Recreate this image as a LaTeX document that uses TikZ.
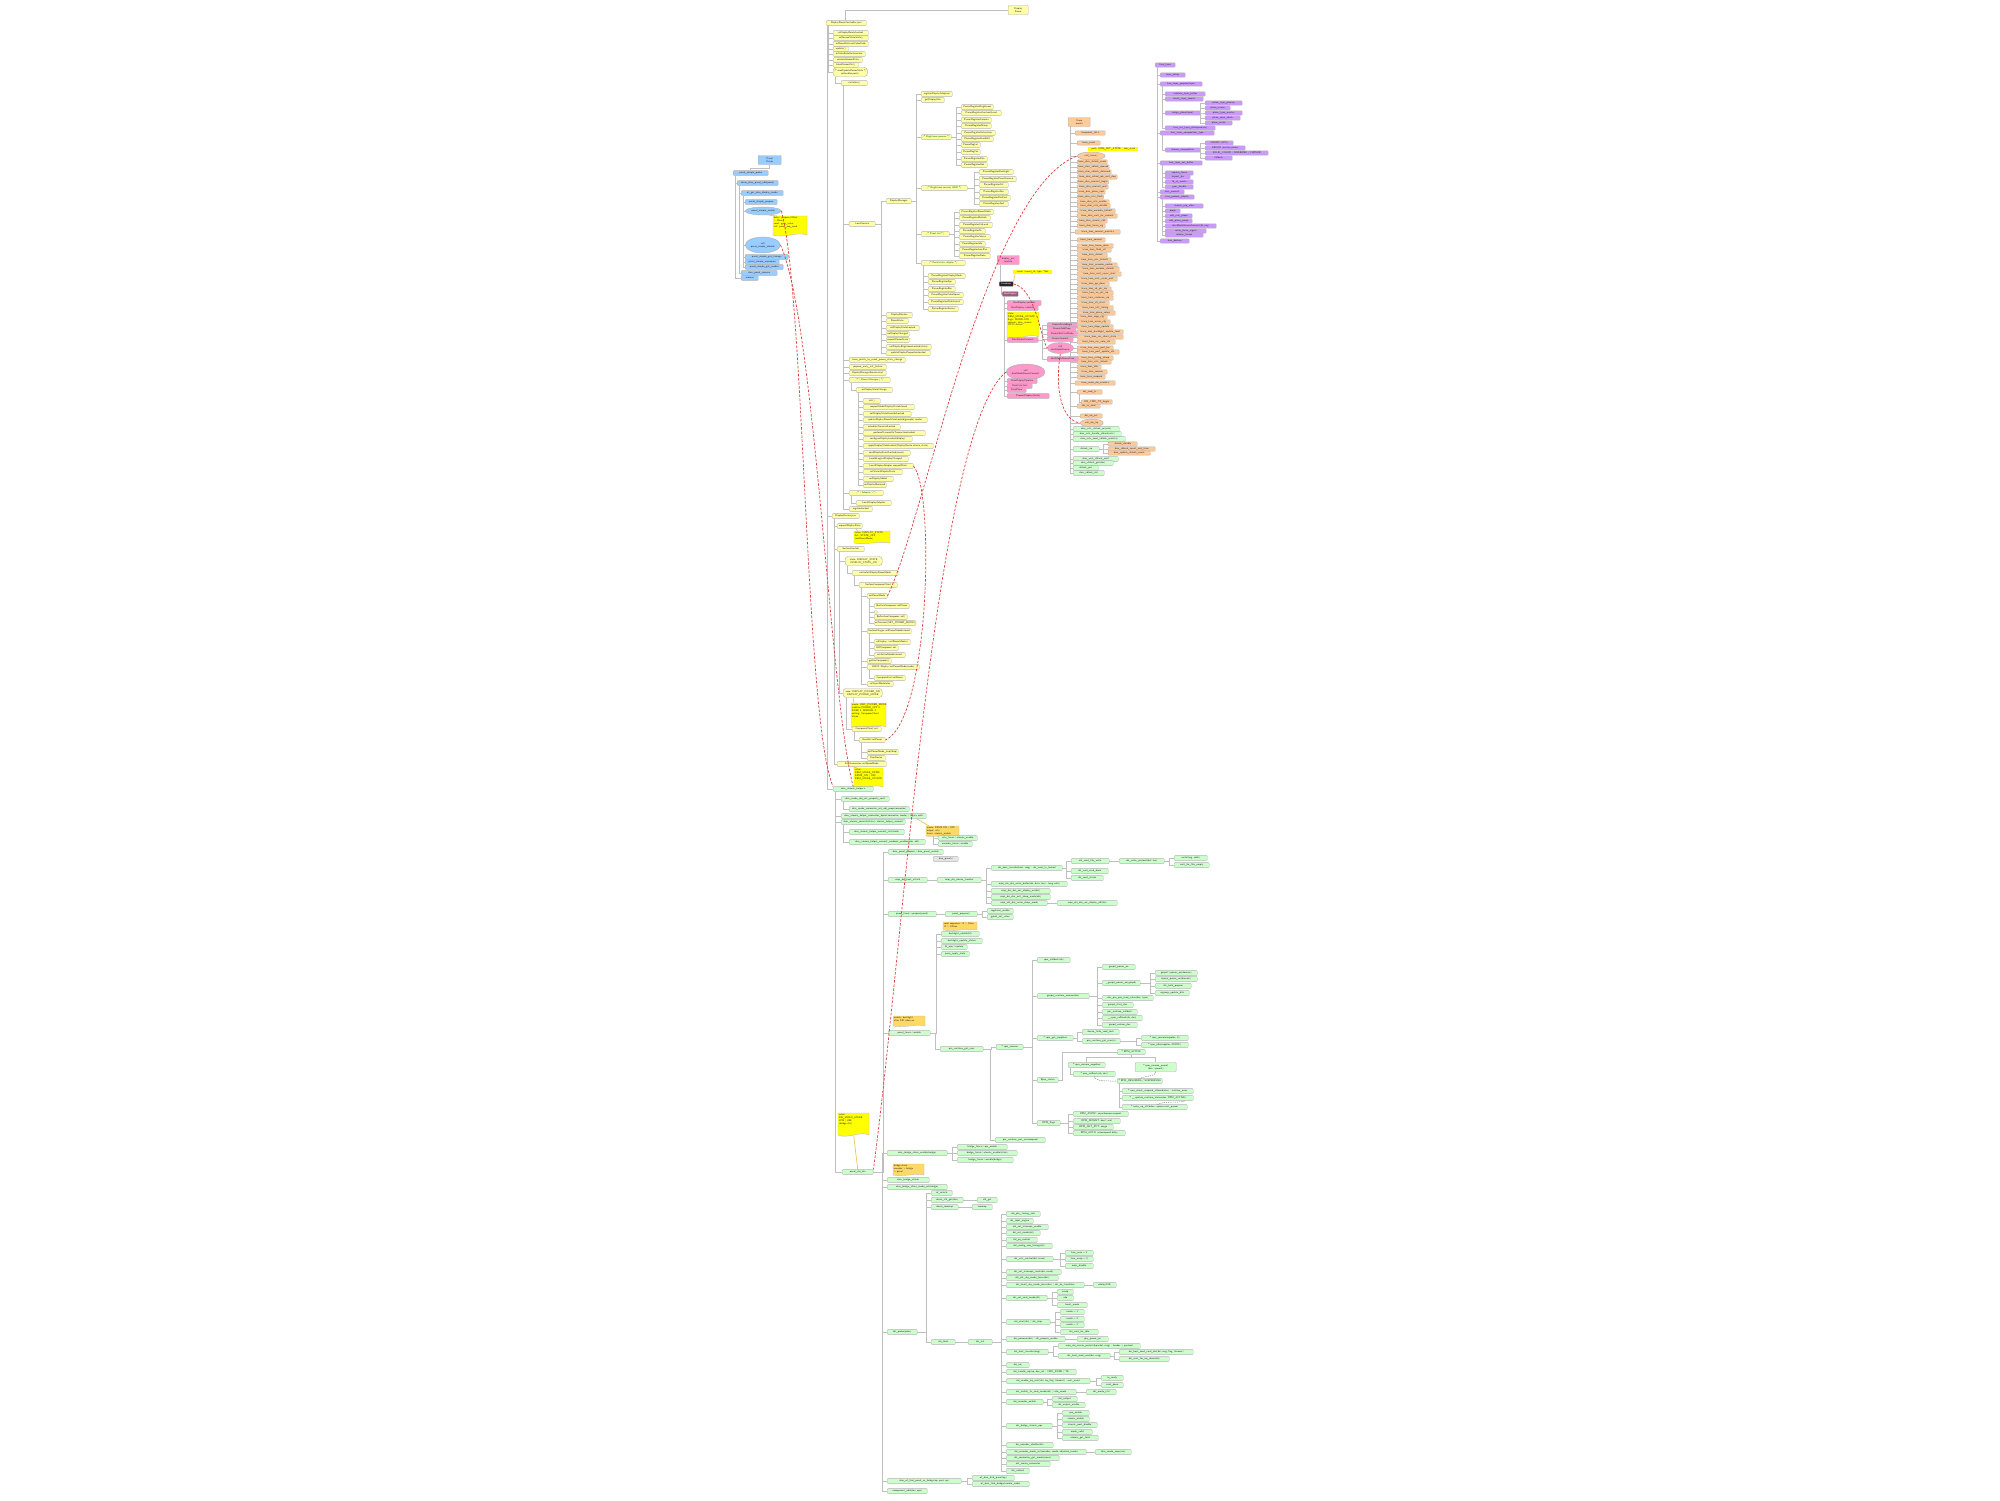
\documentclass[tikz,border=0pt]{standalone}
\usetikzlibrary{shapes.geometric}
\definecolor{cY}{HTML}{FFFFA6}
\definecolor{cYN}{HTML}{FFFF00}
\definecolor{cON}{HTML}{FFD966}
\definecolor{cB}{HTML}{99CCFF}
\definecolor{cO}{HTML}{FFCC99}
\definecolor{cP}{HTML}{FF99CC}
\definecolor{cV}{HTML}{CC99FF}
\definecolor{cG}{HTML}{CCFFCC}
\definecolor{cM}{HTML}{9E5A80}
\definecolor{cR}{HTML}{E03C3C}
\definecolor{cNL}{HTML}{E8C040}
\newcommand\tinyf{\fontsize{2.5}{2.9}\selectfont\sffamily}
\tikzset{
 box/.style={anchor=west, draw=black!30, line width=0.45pt, rounded corners=0.7pt, font=\tinyf, inner xsep=0.8pt, inner ysep=0.2pt, minimum height=4.6pt, align=center, text=black!85},
 Y/.style={box, fill=cY},
 YC/.style={box, fill=cY, text=green!40!black},
 G/.style={box, fill=cG},
 B/.style={box, fill=cB},
 O/.style={box, fill=cO, minimum height=4.2pt},
 P/.style={box, fill=cP},
 V/.style={box, fill=cV, minimum height=4.2pt},
 YL/.style={box, fill=cYN, rounded corners=0pt, draw=none},
 GR/.style={box, fill=black!10},
 two/.style={minimum height=9pt},
 pill/.style={rounded corners=3pt},
 ell/.style={ellipse, anchor=west, draw=black!30, line width=0.45pt, font=\tinyf, inner sep=0pt, align=center, text=black!85},
 conn/.style={draw=black!25, line width=0.8pt},
 rdash/.style={draw=cR, line width=0.7pt, dash pattern=on 2.5pt off 1.6pt},
 gdash/.style={draw=black!50, line width=0.5pt, dash pattern=on 1.2pt off 1pt},
 notel/.style={draw=cNL, line width=0.6pt},
 notetxt/.style={font=\tinyf, align=left, inner sep=0.7pt, text=black!85},
}
\newcommand\Nd[6][Y]{\node[#1,minimum width=#5pt] (#2) at (#3,#4) {#6};}
\newcommand\CL[3][2]{\draw[conn] ([xshift=#1pt]#2.south west) |- (#3.west);}
\newcommand\CR[2]{\draw[conn] (#1.east) -| ([xshift=-5pt]#2.west) -- (#2.west);}
\newcommand\LstL[5]{\foreach \lY/\lW/\lT [count=\lI] in {#5} {\node[#1,minimum width=\lW pt] (#3\lI) at (#4,\lY) {\lT}; \draw[conn] ([xshift=2pt]#2.south west) |- (#3\lI.west);}}
\newcommand\LstR[5]{\foreach \lY/\lW/\lT [count=\lI] in {#5} {\node[#1,minimum width=\lW pt] (#3\lI) at (#4,\lY) {\lT}; \draw[conn] (#2.east) -| ([xshift=-5pt]#3\lI.west) -- (#3\lI.west);}}
\newcommand\Note[7][cYN]{%
 \filldraw[fill=#1, draw=black!25, line width=0.4pt] (#3,#4) -- ++(#5,0) -- ++(0,#6) .. controls +(-0.3*#5,-0.2*#6) and +(0.3*#5,0.2*#6) .. ++(-#5,0) -- cycle;
 \node[inner sep=0pt, minimum width=#5pt, minimum height=#6pt, anchor=north west] (#2) at (#3,#4) {};
 \node[notetxt, anchor=north west] (#2t) at (#3,#4) {#7};}
\begin{document}
\begin{tikzpicture}[x=1pt,y=-1pt]
\useasboundingbox (0,0) rectangle (2000,1500);
\fill[white] (0,0) rectangle (2000,1500);

% ================= BLUE CLUSTER =================
\Nd[B,two]{b156}{758}{160}{23}{Panel\\Driver}
\Nd[B]{b173}{733}{173}{35}{panel\_simple\_probe}
\draw[conn] (b156.south) -- ++(0,3.5) -| (b173.north);
\Nd[B]{b183}{737}{183}{41}{devm\_drm\_panel\_add(panel)}
\Nd[B]{b278}{741}{278}{17}{remove}
\CL{b173}{b183} \CL{b173}{b278}
\Nd[B]{b193}{741}{193}{42}{of\_get\_drm\_display\_mode}
\Nd[B]{b273}{741}{273}{36}{drm\_panel\_remove}
\CL{b183}{b193} \CL{b183}{b273}
\Nd[B]{b202}{745}{202}{32}{panel\_simple\_prepare}
\Nd[ell,fill=cB,minimum height=8pt]{b211}{745}{211}{36}{panel\_simple\_enable}
\Nd[ell,fill=cB,minimum height=16pt]{b244}{745}{245}{35}{call\\panel\_simple\_disable}
\Nd[B]{b257}{745}{257}{43}{panel\_simple\_get\_timings}
\Nd[B]{b262}{745}{262}{34}{panel\_simple\_unprepare}
\Nd[B]{b267}{745}{267}{38}{panel\_simple\_get\_modes}
\foreach \c in {b202,b211,b244,b257,b262,b267}{\CL{b193}{\c}}
\Note{noteB}{773}{216}{34}{19}{delay: prepare 120ms\\+ 20ms\\reset: gpio\_value\\init: panel\_seq\_send}
\draw[notel] ([xshift=6pt]b211.south) -- ([xshift=4pt]noteB.north west);

% ================= TOP YELLOW =================
\Nd{yt}{826}{23}{40}{DisplayPowerController.java}
\Nd[Y,two]{ytr}{1008}{10}{20}{Display\\Power}
\draw[conn] ([xshift=19pt]yt.north west) |- (ytr.west);
\LstL{Y}{yt}{ya}{833}{33/35/{mDisplayReadyLocked}, 38/35/{setScreenState(state)}, 44/35/{mPowerState.setColorFade}, 49/15/{update()}, 54/32/{mColorFadeOnAnimator}, 60/29/{animateScreenState}, 65/25/{blockScreenOn()}}
\Nd[Y,two,pill]{y72}{833}{72}{34}{/* sendUpdatePowerState */\\mHandler.post()}
\CL{yt}{y72}
\Nd{n83}{841}{83}{26}{initialize()}
\CL{y72}{n83}
\Nd{n224}{849}{224}{26}{LocalService}
\Nd{n360}{849}{360}{56}{trace\_printk\_to\_mask\_power\_state\_change}
\Nd{n367}{849}{367}{37}{prepare\_early\_init\_failure}
\Nd{n373}{849}{373}{37}{DisplayManagerService.start}
\Nd[YC]{n380}{849}{380}{41}{/* ( Power Manager ) */}
\Nd[YC]{n493}{849}{493}{34}{/* ( Adapter ) */}
\Nd{n509}{849}{509}{23}{registerLocked}
\foreach \c in {n224,n360,n367,n373,n380,n493,n509}{\CL{n83}{\c}}
\Nd{n201}{886}{201}{25}{DisplayManager}
\CR{n224}{n201}
\LstR{Y}{n224}{la}{886}{315/26/{DisplayBlanker}, 321/22/{PowerState}, 328/33/{setDisplayStateLocked}, 334/23/{onDisplayChanged}, 340/23/{requestPowerState}, 347/45/{setDisplayBrightnessLocked(state)}, 353/44/{updateDisplayPropertiesLocked}}
\Nd{n94}{921}{94}{31}{registerDisplayAdapters}
\Nd{n100}{921}{100}{23}{getDisplayInfo}
\Nd[YC]{n137}{921}{137}{30}{/* Brightness params */}
\Nd[YC]{n188}{921}{188}{46}{/* Brightness control, HDR */}
\Nd[YC]{n234}{921}{234}{28}{/* Panel ctrl */}
\Nd[YC]{n263}{921}{263}{44}{/* Panel state, display */}
\foreach \c in {n94,n100,n137,n188,n234,n263}{\CR{n201}{\c}}
\LstR{Y}{n137}{ka}{961}{107/32/{ParamRegisterBrightness}, 113/40/{ParamRegisterContrastLevel}, 120/30/{ParamRegisterGamma}, 126/30/{ParamRegisterSharp}, 133/34/{ParamRegisterSaturation}, 139/32/{ParamRegisterHueShift}, 145/19/{ParamRegLut}, 152/19/{ParamRegCsc}, 159/26/{ParamRegisterDim}, 165/26/{ParamRegisterHdr}}
\LstR{Y}{n188}{kb}{979}{172/34/{ParamRegisterBacklight}, 179/37/{ParamRegisterPanelGamma}, 185/29/{ParamRegisterCct}, 192/29/{ParamRegisterDre}, 198/31/{ParamRegisterDimFast}, 204/29/{ParamRegisterAod}}
\LstR{Y}{n234}{kc}{959}{212/34/{ParamRegisterPowerMode}, 218/31/{ParamRegisterRefresh}, 225/33/{ParamRegisterVrrLevel}, 231/26/{ParamRegisterTe}, 237/31/{ParamRegisterVsync}, 244/26/{ParamRegisterIdle}, 250/31/{ParamRegisterLowPwr}, 256/31/{ParamRegisterDoze}}
\LstL{Y}{n263}{kd}{928}{276/37/{ParamRegisterDisplayMode}, 282/27/{ParamRegisterFps}, 289/27/{ParamRegisterRes}, 295/35/{ParamRegisterColorSpace}, 302/35/{ParamRegisterWideGamut}, 309/30/{ParamRegisterFrame}}
\Nd{n390}{856}{390}{36}{onDisplayStateChange}
\CL{n380}{n390}
\LstL{Y}{n390}{le}{863}{401/17/{init()}, 407/51/{requestGlobalDisplayStateInternal}, 414/48/{setDisplayStateOverrideLocked}, 420/64/{updateDisplayPowerStateLocked(groupId, mode)}, 427/37/{scheduleTraversalLocked}, 433/62/{performTraversalInTransactionLocked}, 439/49/{configureDisplayLocked(display)}, 446/70/{applyDisplayStateLocked(DisplayDevice device, state)}, 453/47/{sendDisplayEventLocked(event)}, 459/45/{handleLogicalDisplayChanged}, 466/50/{LocalDisplayAdapter.requestState}, 472/39/{setVirtualDisplayState}, 479/30/{onDisplayAdded}, 485/23/{onDisplayRemoved}}
\Nd{n503}{856}{503}{35}{LocalDisplayAdapter}
\CL{n493}{n503}

% ================= YELLOW LOWER =================
\Nd{n517}{832}{516}{27}{DisplayDevice.java}
\CL[1]{yt}{n517}
\Nd{n526}{837}{526}{25}{requestDisplayState}
\Nd{n549}{837}{549}{27}{SurfaceControl}
\Nd{n764}{837}{764}{49}{DrmConnector::setDpmsMode}
\CL{n517}{n526} \CL{n517}{n549} \CL{n517}{n764}
\Note{noteA}{854}{531}{36}{12}{value: DISPLAY\_STATE\\0x1: STATE\_OFF\\(setPowerMode)}
\draw[notel] ([xshift=-7pt]n526.south east) -- ([xshift=4pt]noteA.north west);
\Nd[Y,two,pill]{n561}{845}{561}{37}{state: DISPLAY\_STATE\\DISPLAY\_STATE\_ON}
\CL{n549}{n561}
\Nd{n573}{852}{573}{46}{nativeSetDisplayPowerMode}
\CL{n561}{n573}
\Nd{n585}{859}{585}{38}{SurfaceComposerClient}
\CL{n573}{n585}
\Nd{n596}{867}{596}{20}{setPowerMode}
\Nd{n631}{867}{631}{44}{SurfaceFlinger::setPowerModeInternal}
\Nd{n661}{867}{661}{24}{getHwComposer()}
\Nd{n667}{867}{667}{52}{HWC2::Display::setPowerMode(mode)}
\Nd{n684}{867}{684}{26}{mVsyncModulator}
\foreach \c in {n596,n631,n661,n667,n684}{\CL{n585}{\c}}
\LstL{Y}{n596}{sa}{874}{606/35/{ISurfaceComposer::setPower}, 617/33/{BpSurfaceComposer::call}, 623/39/{onTransact(SET\_POWER\_MODE)}}
\node[Y, minimum width=3pt, minimum height=2.5pt, inner sep=0pt] (n612) at (874,612) {};
\CL{n596}{n612}
\LstL{Y}{n631}{sb}{874}{642/36/{mDisplay->setPowerMode()}, 648/24/{HWComposer::set}, 655/31/{setActiveModeInternal}}
\LstL{Y}{n667}{sc}{874}{678/31/{ComposerHal::setPower}}
\Nd[Y,two,pill]{n693}{843}{693}{39}{case: DISPLAY\_POWER\_ON\\DISPLAY\_POWER\_MODE}
\CL{n549}{n693}
\Note{noteC}{851}{703}{35}{24}{mode: HWC\_POWER\_MODE\\\#define POWER\_OFF 0\\DOZE 1, NORMAL 2\\setting: ComposerClient\\Vsync}
\draw[notel] ([xshift=10pt]n693.south west) -- ([xshift=3pt]noteC.north west);
\Nd{n729}{852}{729}{29}{ComposerClient::set}
\CL[3]{n693}{n729}
\Nd{n740}{859}{740}{26}{HwcHal::setPower}
\CL{n729}{n740}
\LstL{Y}{n740}{sd}{867}{752/31/{setPowerMode\_impl(disp)}, 758/18/{DrmDevice}}
\Note{noteD}{854}{768}{29}{19}{value:\\DRM\_MODE\_DPMS\\DPMS\_ON / OFF\\DRM\_MODE\_ATOMIC}
\draw[notel] ([xshift=15pt]n764.south west) -- ([xshift=3pt]noteD.north west);

% ================= GREEN TREE =================
\Nd[G]{groot}{833}{789}{40}{drm\_atomic\_helper.c}
\CL[1]{yt}{groot}
\Nd[G]{g799}{841}{799}{48}{drm\_mode\_obj\_set\_property\_ioctl}
\Nd[G]{g816}{841}{816}{85}{drm\_atomic\_helper\_connector\_dpms(connector, mode) / legacy path}
\Nd[G]{g822}{841}{822}{64}{drm\_atomic\_commit(state): atomic\_helper\_commit}
\Nd[G]{g1172}{842}{1172}{31}{panel\_dsi\_drv}
\foreach \c in {g799,g816,g822,g1172}{\CL{groot}{\c}}
\Nd[G]{g809}{849}{809}{60}{drm\_mode\_connector\_set\_obj\_prop(connector)}
\CL{g799}{g809}
\Nd[G]{g832}{849}{832}{55}{drm\_atomic\_helper\_commit\_tail(state)}
\Nd[G]{g842}{849}{842}{76}{drm\_atomic\_helper\_commit\_modeset\_enables(dev, old)}
\CL{g822}{g832} \CL{g822}{g842}
\Note[cON]{noteE}{926}{826}{33}{10}{mode: DPMS ON / OFF\\helper: crtc\\funcs: atomic\_enable}
\draw[notel] ([xshift=-10pt]g816.south east) -- ([xshift=3pt]noteE.north west);
\Nd[G]{g838}{938}{838}{39}{crtc\_funcs->atomic\_enable}
\Nd[G]{g844}{938}{844}{34}{encoder\_funcs->enable}
\draw[conn] ([xshift=7pt]noteE.south west) |- (g838.west);
\draw[conn] ([xshift=7pt]noteE.south west) |- (g844.west);
\Note{noteI}{838}{1113}{31}{22}{value:\\DSI\_VIDEO\_MODE\\LPM | HSE\\(bridge ctrl)}
\draw[notel] (noteI.south) -- (g1172.north);

\Nd[G]{g852}{888}{852}{55}{drm\_panel\_prepare / drm\_panel\_enable}
\Nd[G]{g880}{888}{880}{39}{mipi\_dsi\_host\_attach}
\Nd[G]{g914}{888}{914}{48}{panel\_funcs->prepare(panel)}
\Nd[G]{g1033}{888}{1033}{42}{panel\_funcs->enable}
\Nd[G]{g1153}{887}{1153}{60}{drm\_bridge\_chain\_enable(bridge)}
\Nd[G]{g1180}{887}{1180}{42}{drm\_bridge\_attach}
\Nd[G]{g1187}{887}{1187}{60}{drm\_bridge\_chain\_mode\_set(bridge)}
\Nd[G]{g1332}{887}{1332}{30}{dsi\_probe(pdev)}
\Nd[G]{g1481}{887}{1481}{74}{drm\_of\_find\_panel\_or\_bridge(np, port, ep)}
\Nd[G]{g1491}{887}{1491}{40}{component\_add(dev, ops)}
\foreach \c in {g852,g880,g914,g1033,g1153,g1180,g1187,g1332,g1481,g1491}{\CR{g1172}{\c}}
\Nd[GR]{gray}{933}{859}{25}{drm\_panel.c}

\Nd[G]{g880b}{937}{880}{44}{mipi\_dsi\_device\_transfer}
\CR{g880}{g880b}
\LstR{G}{g880b}{ga}{991}{868/71/{dsi\_host\_transfer(host, msg) : dsi\_cmd\_tx\_locked}, 884/76/{mipi\_dsi\_dcs\_write\_buffer(dsi, data, len) : long write}, 891/59/{mipi\_dsi\_dcs\_set\_display\_on(dsi)}, 897/59/{mipi\_dsi\_dcs\_exit\_sleep\_mode(dsi)}, 903/56/{mipi\_dsi\_dcs\_enter\_sleep\_mode}}
\LstR{G}{ga1}{gb}{1071}{861/38/{dsi\_cmd\_fifo\_write}, 871/37/{dsi\_wait\_cmd\_done}, 878/32/{dsi\_read\_status}}
\Nd[G]{gbx}{1119}{861}{45}{dsi\_write\_payload(buf, len)}
\CR{gb1}{gbx}
\LstR{G}{gbx}{gc}{1174}{858/33/{writel(reg, addr)}, 865/35/{wait\_for\_fifo\_empty}}
\Nd[G]{gd}{1057}{903}{60}{mipi\_dsi\_dcs\_set\_display\_off(dsi)}
\CR{ga5}{gd}
\Nd[G]{g914b}{945}{914}{32}{panel\_prepare()}
\CR{g914}{g914b}
\LstR{G}{g914b}{ge}{987}{911/26/{regulator\_enable}, 917/26/{gpiod\_set\_value}}
\Note[cON]{noteF}{943}{922}{34}{8}{reset sequence: t1 > 10ms\\t2 > 120ms}
\Note[cON]{noteG}{893}{1016}{32}{10}{enable: backlight\\after DSI video on}
\LstR{G}{g1033}{gf}{941}{934/38/{backlight\_enable(bl)}, 941/41/{backlight\_update\_status}, 947/26/{bl\_ops->update}, 954/28/{pwm\_apply\_state}}
\Nd[G]{g1049}{940}{1049}{43}{pm\_runtime\_get\_sync}
\CR{g1033}{g1049}
\Nd[G]{g1047}{996}{1047}{27}{* rpm\_resume}
\Nd[G]{g1140}{995}{1140}{50}{pm\_runtime\_put\_autosuspend}
\CR{g1049}{g1047} \CR{g1049}{g1140}
\LstR{G}{g1047}{h}{1037}{960/33/{rpm\_callback(cb)}, 996/52/{genpd\_runtime\_resume(dev)}, 1038/36/{* rpm\_get\_suppliers}, 1080/21/{Rpm\_status}, 1123/23/{RPM\_flags}}
\LstR{G}{h2}{i}{1102}{967/33/{genpd\_power\_on}, 983/38/{\_genpd\_power\_on(genpd)}, 998/51/{dev\_pm\_qos\_read\_value(dev, type)}, 1005/31/{genpd\_start\_dev}, 1012/35/{pm\_runtime\_callback}, 1018/40/{\_\_rpm\_callback(cb, dev)}, 1025/35/{genpd\_restore\_dev}}
\LstR{G}{i2}{j}{1155}{973/42/{genpd->power\_on(domain)}, 979/42/{scpsys\_power\_on(domain)}, 986/36/{clk\_bulk\_prepare}, 993/34/{regmap\_update\_bits}}
\LstR{G}{h3}{ia}{1082}{1032/37/{device\_links\_read\_lock}, 1041/38/{pm\_runtime\_get\_sync(s)}}
\LstR{G}{ia2}{ja}{1141}{1038/47/{* rpm\_resume(supplier, 0)}, 1045/47/{* rpm\_idle(supplier, ASYNC)}}
\Nd[G]{Q}{1117}{1052}{28}{* RPM\_ACTIVE}
\draw[conn] (h4.east) -- ++(4pt,0) |- (Q.west);
\Nd[G]{R1}{1068}{1065}{37}{* rpm\_resume\_suppliers}
\Nd[G,two]{R2}{1135}{1067}{41}{* rpm\_resume\_parent\\(dev->parent)}
\draw[conn] (Q.south) -- ++(0,3) -| (R1.north);
\draw[conn] (Q.south) -- ++(0,3) -| (R2.north);
\Nd[G]{R1a}{1073}{1074}{42}{* rpm\_callback(cb, dev)}
\CL{R1}{R1a}
\Nd[G]{R3}{1117}{1081}{45}{* RPM\_RESUMING / SUSPENDING}
\draw[gdash] (R2.south) .. controls +(0,5) and +(6,-3) .. (R3.north);
\draw[gdash] (R1a.south) .. controls +(0,5) and +(-8,0) .. (R3.west);
\LstL{G}{R3}{k}{1122}{1091/71/{* rpm\_check\_suspend\_allowed(dev) : runtime\_error}, 1098/71/{* \_\_update\_runtime\_status(dev, RPM\_ACTIVE)}, 1107/65/{* wake\_up\_all(\&dev->power.wait\_queue)}}
\draw[gdash] ([xshift=-30pt]k3.north east) .. controls +(6,-4) and +(-4,3) .. ([xshift=-8pt]k2.south east);
\LstR{G}{h5}{ib}{1073}{1114/55/{RPM\_ASYNC: asynchronous request}, 1121/47/{RPM\_NOWAIT: don't wait}, 1127/40/{RPM\_GET\_PUT: usage}, 1133/52/{RPM\_AUTO: autosuspend delay}}

\LstR{G}{g1153}{gg}{957}{1147/50/{bridge\_funcs->pre\_enable}, 1153/60/{bridge\_funcs->atomic\_enable(state)}, 1160/56/{bridge\_funcs->enable(bridge)}}
\Note[cON]{noteH}{893}{1164}{31}{11}{bridge chain:\\encoder > bridge\\> panel}
\LstR{G}{g1332}{m}{931}{1193/21/{of\_match}, 1200/32/{devm\_clk\_get(dev)}, 1207/27/{devm\_ioremap}, 1342/24/{dsi\_bind}}
\Nd[G]{m2b}{977}{1200}{20}{clk\_get} \CR{m2}{m2b}
\Nd[G]{m3b}{972}{1207}{20}{ioremap} \CR{m3}{m3b}
\Nd[G]{m4b}{968}{1342}{24}{dsi\_init} \CR{m4}{m4b}
\LstR{G}{m4b}{n}{1006}{1214/34/{dsi\_phy\_timing\_calc}, 1221/27/{dsi\_reset\_engine}, 1227/42/{dsi\_set\_interrupt\_enable}, 1233/34/{dsi\_set\_mode(dsi)}, 1240/31/{dsi\_ps\_control}, 1246/46/{dsi\_config\_vdo\_timing(dsi)}, 1259/47/{dsi\_rxtx\_control(dsi, lanes)}, 1272/55/{dsi\_set\_interrupt\_mask(dsi, mask)}, 1278/52/{dsi\_clk\_ulp\_mode\_leave(dsi)}, 1285/78/{dsi\_lane0\_ulp\_mode\_leave(dsi) / dsi\_hs\_transition}, 1298/41/{dsi\_set\_cmd\_mode(dsi)}, 1322/44/{dsi\_start(dsi) / dsi\_stop}, 1339/59/{dsi\_poweron(dsi) : clk\_prepare\_enable}, 1352/42/{dsi\_host\_transfer(msg)}, 1365/23/{dsi\_irq}, 1372/70/{dsi\_handle\_irq(irq, dev\_id) : CMD\_DONE / TE}, 1381/84/{dsi\_enable\_irq\_wait(dsi, irq\_flag, timeout) : wait\_event}, 1392/70/{dsi\_switch\_to\_cmd\_mode(dsi) / vdo\_mode}, 1402/37/{dsi\_encoder\_enable}, 1426/46/{dsi\_bridge\_atomic\_ops}, 1445/47/{dsi\_encoder\_disable(dsi)}, 1452/80/{dsi\_encoder\_mode\_set(encoder, mode, adjusted\_mode)}, 1458/53/{dsi\_connector\_get\_modes(conn)}, 1464/44/{dsi\_create\_connector}, 1471/23/{dsi\_unbind}}
\LstR{G}{n7}{na}{1065}{1253/28/{lane\_num = 4}, 1259/28/{lane\_swap = 0}, 1266/28/{eotp\_disable}}
\Nd[G]{nb}{1093}{1285}{23}{udelay(100)} \CR{n10}{nb}
\LstR{G}{n11}{nc}{1057}{1292/16/{cmdq}, 1298/16/{vdo}, 1305/30/{burst\_mode}}
\LstR{G}{n12}{nd}{1060}{1312/24/{mode = 1}, 1319/24/{mode = 2}, 1325/24/{mode = 3}, 1332/38/{dsi\_wait\_for\_idle}}
\Nd[G]{ne}{1077}{1339}{31}{phy\_power\_on} \CR{n13}{ne}
\LstR{G}{n14}{nf}{1058}{1346/82/{mipi\_dsi\_create\_packet(\&packet, msg) : header + payload}, 1356/52/{dsi\_host\_send\_cmd(dsi, msg)}}
\LstR{G}{nf2}{ng}{1119}{1352/74/{dsi\_host\_send\_cmd\_dcs(dsi, msg, flag, timeout)}, 1359/50/{dsi\_wait\_for\_irq\_done(dsi)}}
\LstR{G}{n17}{nh}{1101}{1378/22/{te\_ready}, 1385/22/{cmd\_done}}
\Nd[G]{ni}{1086}{1392}{30}{dsi\_mode\_ctrl} \CR{n18}{ni}
\LstR{G}{n19}{nj}{1052}{1399/25/{dsi\_output}, 1405/33/{dsi\_output\_enable}}
\LstR{G}{n20}{nk}{1062}{1413/27/{pre\_enable}, 1419/27/{atomic\_enable}, 1425/35/{atomic\_post\_disable}, 1432/30/{mode\_valid}, 1438/36/{atomic\_get\_fmts}}
\Nd[G]{nl}{1095}{1452}{36}{drm\_mode\_copy(vm)} \CR{n22}{nl}
\LstR{G}{g1481}{go}{972}{1478/42/{of\_drm\_find\_panel(np)}, 1484/57/{of\_drm\_find\_bridge(remote\_node)}}

% ================= ORANGE CLUSTER =================
\Nd[O,two]{oroot}{1068}{122}{22}{ftrace\\events}
\Nd[O]{o133}{1075}{133}{30}{tracepoint\_list.c}
\Nd[O]{o143}{1077}{143}{23}{trace\_event}
\Nd[ell,fill=cO,minimum height=8pt]{o156}{1077}{156}{28}{call\_trace()}
\foreach \c in {o133,o143,o156}{\CL{oroot}{\c}}
\Nd[YL]{olab}{1088}{149}{50}{path: DRM\_SET\_STATE \quad sde\_state}
\LstL{O}{oroot}{oa}{1077}{162/30/{trace\_drm\_vblank\_event}, 167/32/{trace\_drm\_vblank\_queued}, 172/34/{trace\_drm\_vblank\_delivered}, 177/40/{trace\_drm\_sched\_job\_wait\_dep}, 182/30/{trace\_drm\_commit\_begin}, 187/31/{trace\_drm\_commit\_end}, 192/28/{trace\_drm\_plane\_upd}, 197/26/{trace\_drm\_crtc\_flush}, 202/32/{trace\_drm\_crtc\_enable}, 206/33/{trace\_drm\_crtc\_disable}, 211/38/{trace\_drm\_encoder\_kickoff}, 216/40/{trace\_drm\_wait\_for\_commit}, 221/30/{trace\_drm\_atomic\_chk}, 226/28/{trace\_drm\_fence\_sig}}
\Nd[O]{o232}{1075}{232}{45}{trace\_kms\_commit\_events.c}
\CL{oroot}{o232}
\LstL{O}{oroot}{ob}{1077}{240/28/{trace\_kms\_commit}, 246/36/{trace\_kms\_frame\_done}, 250/34/{trace\_kms\_flush\_ctl}, 255/30/{trace\_kms\_vblank}, 260/34/{trace\_kms\_crtc\_kickoff}, 265/40/{trace\_kms\_encoder\_enable}, 269/42/{trace\_kms\_encoder\_disable}, 274/44/{trace\_kms\_wait\_vsync\_start}, 279/40/{trace\_kms\_wait\_vsync\_end}, 284/32/{trace\_kms\_pp\_done}, 289/34/{trace\_kms\_rd\_ptr\_irq}, 293/36/{trace\_kms\_wr\_ptr\_irq}, 298/36/{trace\_kms\_underrun\_irq}, 303/32/{trace\_kms\_ctl\_start}, 308/36/{trace\_kms\_intf\_timing}, 313/38/{trace\_kms\_plane\_setup}, 317/30/{trace\_kms\_sspp\_cfg}, 322/33/{trace\_kms\_mixer\_cfg}, 327/36/{trace\_kms\_dspp\_update}, 332/46/{trace\_kms\_backlight\_update\_level}, 337/46/{trace\_kms\_rsc\_client\_state}, 342/38/{trace\_kms\_rsc\_vote\_clk}, 348/36/{trace\_kms\_core\_perf\_bw}, 352/42/{trace\_kms\_perf\_update\_clk}, 358/36/{trace\_kms\_evtlog\_dump}, 362/34/{trace\_kms\_crtc\_vblank}, 367/24/{trace\_kms\_idle}, 372/30/{trace\_kms\_resume}, 377/28/{trace\_kms\_suspend}}
\Nd[O]{o383}{1075}{383}{40}{trace\_mdss\_dsi\_events.c}
\Nd[O]{o392}{1077}{392}{25}{dsi\_cmd\_tx}
\Nd[O]{o406}{1077}{406}{23}{dsi\_rx\_cmd}
\Nd[O]{o416}{1080}{416}{22}{dsi\_irq\_evt}
\Nd[ell,fill=cO,minimum height=8pt]{o423}{1080}{423}{23}{call\_dsi\_irq}
\foreach \c in {o383,o392,o406,o416,o423}{\CL{oroot}{\c}}
\Nd[O]{o402}{1081}{402}{31}{DSI\_CMD\_TX\_begin}
\CL{o392}{o402}
\LstL{G}{oroot}{gr}{1073}{429/46/{drm\_crtc\_vblank\_on(crtc)}, 434/48/{drm\_crtc\_handle\_vblank(crtc)}, 439/52/{drm\_crtc\_send\_vblank\_event(e)}, 449/26/{vblank\_irq}, 459/45/{drm\_wait\_vblank\_ioctl}, 463/40/{drm\_vblank\_get(dev)}, 468/25/{vblank\_put}, 473/31/{drm\_vblank\_init}}
\LstR{O}{gr4}{or}{1108}{444/29/{vblank\_disable}, 449/47/{drm\_vblank\_count\_and\_time}, 453/42/{drm\_update\_vblank\_count}}

% ================= PINK CLUSTER =================
\Nd[P,two]{pk}{997}{260}{22}{display\_svc\\module}
\Nd[YL]{pkl}{1013}{272}{39}{value: tunnel\_id, type: *hdr}
\Nd[box,fill=black!85,text=white]{blk}{999}{284}{14}{hwcomp}
\Nd[box,fill=cM,text=white]{mv}{1002}{294}{16}{HwcDisplay}
\draw[conn] ([xshift=3pt]pk.south west) -- ([xshift=1pt]blk.north west);
\draw[notel] ([xshift=2pt]pkl.south west) -- (blk.north east);
\CL{blk}{mv}
\LstL{P}{mv}{pa}{1007}{303/34/{HwcDisplay::present}, 308/31/{HwcDisplay::validate}}
\Note{pnote}{1007}{312}{32}{25}{state:\\DRM\_MODE\_ATOMIC\\flags: NONBLOCK\\commit: drm\_atomic\\CRTC Active}
\Nd[P]{p340}{1007}{340}{31}{DrmAtomicCommit}
\Nd[ell,fill=cP,minimum height=16pt]{p372}{1006}{372}{34}{call\\drmModeAtomicCommit}
\CL{mv}{p340} \CL{mv}{p372}
\LstL{P}{mv}{pb}{1007}{381/30/{DrmDisplayPipeline}, 386/25/{DrmCrtc::Init}, 390/19/{DrmPlane}, 396/42/{PresentDisplay(fence)}}
\LstR{P}{p340}{q}{1047}{325/30/{AtomicStateBegin}, 329/29/{AtomicAddProp}, 334/30/{AtomicSetCrtcMode}, 339/26/{AtomicCommit}}
\Nd[ell,fill=cP,minimum height=11pt]{q348}{1047}{348}{25}{call\\drmModeAtomic}
\Nd[P]{q359}{1047}{359}{31}{drmModeAtomicFree}
\CR{p340}{q348} \CR{p340}{q359}

% ================= PURPLE CLUSTER =================
\Nd[V]{vroot}{1155}{65}{20}{hwc\_layer}
\LstL{V}{vroot}{v}{1160}{75/25/{layer\_setup}, 84/42/{hwc\_layer\_prepare(layer)}, 133/54/{hwc\_layer\_composition\_type}, 163/42/{hwc\_layer\_set\_buffer}, 192/24/{hwc\_commit}, 197/34/{hwc\_present\_display}, 241/29/{hwc\_destroy}}
\LstL{V}{v2}{va}{1165}{94/40/{validate\_layer\_buffer}, 99/38/{check\_layer\_format}, 113/35/{assign\_plane(layer)}, 128/50/{hwc\_set\_layer\_dataspace(ds)}}
\LstR{V}{va3}{vb}{1205}{103/37/{plane\_type\_primary}, 108/25/{plane\_cursor}, 113/37/{plane\_type\_overlay}, 118/35/{plane\_zpos\_check}, 123/27/{plane\_scaler}}
\LstL{V}{v3}{vc}{1165}{150/35/{choose\_composition}}
\LstR{V}{vc1}{vd}{1205}{143/28/{CLIENT (GPU)}, 148/40/{DEVICE (overlay plane)}, 153/63/{SOLID\_COLOR / SIDEBAND / CURSOR}, 158/27/{fallback}}
\LstL{V}{v4}{ve}{1165}{173/28/{acquire\_fence}, 177/25/{import\_bo}, 182/28/{fb\_id\_create}, 187/28/{gem\_handle}}
\LstL{V}{v6}{vf}{1165}{206/38/{atomic\_req\_alloc}, 211/15/{props}, 216/27/{add\_crtc\_props}, 221/27/{add\_plane\_props}, 226/51/{drmModeAtomicCommit(fd, req)}, 231/41/{retire\_fence\_signal}, 235/38/{release\_fences}}

% ================= RED DASHED RELATIONS =================
\draw[rdash] (n596.east) .. controls (925,520) and (985,190) .. (o156.west);
\draw[rdash] (p372.west) .. controls (935,430) and (905,930) .. (g1172.north east);
\draw[rdash] (le11.east) .. controls (935,490) and (930,720) .. (n740.east);
\draw[rdash] (b211.east) .. controls (805,300) and (805,720) .. (groot.north west);
\draw[rdash] (b244.east) .. controls (815,320) and (830,700) .. (groot.north);
\draw[rdash] (blk.east) .. controls (1035,288) and (1040,335) .. (q348.west);
\draw[rdash] (q348.south) .. controls (1055,385) and (1060,420) .. (o423.west);
\end{tikzpicture}
\end{document}
